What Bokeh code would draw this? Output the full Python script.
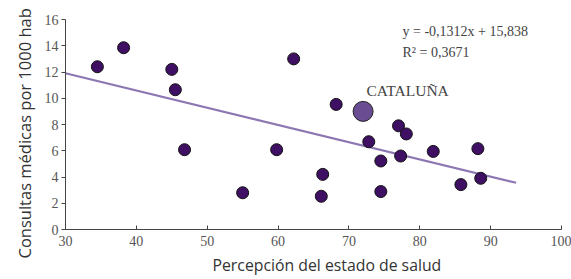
from bokeh.plotting import figure
from bokeh.models import Range1d, FixedTicker, ColumnDataSource, Title
from bokeh.core.properties import value
from bokeh.embed import file_html
from bokeh.resources import INLINE

# Data
percepcion = [34.5, 38.2, 45.0, 45.5, 46.8, 55.0, 59.8, 62.2, 66.3, 66.1, 68.2,
              77.0, 78.1, 72.8, 74.5, 74.5, 77.3, 81.9, 88.2, 85.8, 88.6]
consultas = [12.4, 13.85, 12.2, 10.65, 6.08, 2.8, 6.08, 13.0, 4.2, 2.53, 9.53,
             7.9, 7.28, 6.69, 5.22, 2.89, 5.6, 5.95, 6.16, 3.42, 3.9]
cat_x = [72.0]
cat_y = [9.0]
cat_label = ["CATALUÑA"]
slope = -0.1312
intercept = 15.838
trend_x = [30, 93.6]
trend_y = [slope * v + intercept for v in trend_x]
x_ticks = [30, 40, 50, 60, 70, 80, 90, 100]
y_ticks = [0, 2, 4, 6, 8, 10, 12, 14, 16]
eq_text = ["y = -0,1312x + 15,838"]
r2_text = ["R² = 0,3671"]
x_title = "Percepción del estado de salud"
y_title = "Consultas médicas por 1000 hab"

p = figure(width=571, height=279, output_backend="svg", toolbar_location=None,
           x_range=Range1d(30, 100), y_range=Range1d(0, 16),
           min_border_left=65, min_border_right=10, min_border_top=19,
           min_border_bottom=50)
p.outline_line_color = None
p.grid.visible = False
p.background_fill_color = "white"

serif = "Liberation Serif"
sans = "Open Sans"

p.xaxis.ticker = FixedTicker(ticks=x_ticks)
p.yaxis.ticker = FixedTicker(ticks=y_ticks)
for ax in (p.xaxis[0], p.yaxis[0]):
    ax.major_label_text_font = serif
    ax.major_label_text_font_size = "14px"
    ax.major_label_text_color = "#555555"
    ax.axis_line_color = "#444444"
    ax.major_tick_line_color = "#444444"
    ax.minor_tick_line_color = None
p.xaxis.major_tick_in = 4
p.xaxis.major_tick_out = 0
p.yaxis.major_tick_in = 0
p.yaxis.major_tick_out = 4
p.xaxis.major_label_standoff = 6
p.yaxis.major_label_standoff = 3

p.add_layout(Title(text=x_title, text_font=sans, text_font_size="15.8px",
                   text_font_style="normal", text_color="#333333",
                   align="left", offset=147, standoff=7), "below")
p.add_layout(Title(text=y_title, text_font=sans, text_font_size="16.5px",
                   text_font_style="normal", text_color="#333333",
                   align="left", offset=-29, standoff=12), "left")

p.line(trend_x, trend_y, line_color="#8C77B3", line_width=2.2)

src = ColumnDataSource(dict(x=percepcion, y=consultas))
p.scatter("x", "y", source=src, size=12, fill_color="#3E0F62",
          line_color="#111111", line_width=1)
p.scatter(cat_x, cat_y, size=20, fill_color="#6A4C93", line_color="#222222",
          line_width=1)

p.text(x=[72.48], y=[10.59], text=cat_label, text_font=value(serif),
       text_font_size="15.5px", text_color="#444444", text_baseline="middle")
p.text(x=[77.56], y=[15.09], text=eq_text, text_font=value(serif),
       text_font_size="14px", text_color="#444444", text_baseline="middle")
p.text(x=[77.56], y=[13.49], text=r2_text, text_font=value(serif),
       text_font_size="14px", text_color="#444444", text_baseline="middle")

open("out.html", "w").write(file_html(p, INLINE))
